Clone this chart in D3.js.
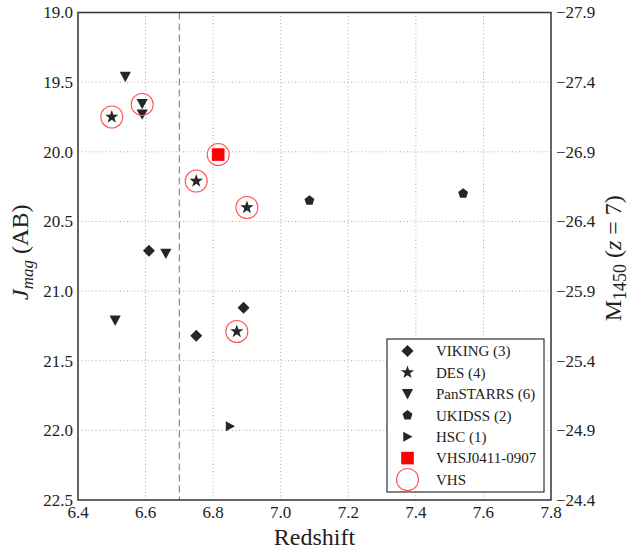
<!DOCTYPE html>
<html><head><meta charset="utf-8">
<script src="https://cdn.jsdelivr.net/npm/d3@7"></script>
<style>body{margin:0;background:#fff}svg{display:block}text{font-family:"Liberation Serif","DejaVu Serif",serif;fill:#222}</style>
</head><body><svg id="c" width="630" height="554"></svg>
<script>
// Data (redshift z, J magnitude AB)
const viking   = [[6.61,20.71],[6.75,21.32],[6.89,21.12]];
const des      = [[6.50,19.75],[6.75,20.21],[6.90,20.40],[6.87,21.29]];
const panstarrs= [[6.54,19.46],[6.59,19.655],[6.59,19.73],[6.66,20.73],[6.51,21.21]];
const ukidss   = [[7.085,20.35],[7.54,20.30]];
const hsc      = [[6.85,21.97]];
const vhsj0411 = [[6.815,20.02]];
const vhs      = [[6.50,19.75],[6.59,19.66],[6.815,20.02],[6.75,20.21],[6.90,20.40],[6.87,21.29]];
const xTicks = [6.4,6.6,6.8,7.0,7.2,7.4,7.6,7.8];
const yTicks = [19.0,19.5,20.0,20.5,21.0,21.5,22.0,22.5];
const mTicks = [-27.9,-27.4,-26.9,-26.4,-25.9,-25.4,-24.9,-24.4];
const legendLabels = ["VIKING (3)","DES (4)","PanSTARRS (6)","UKIDSS (2)","HSC (1)","VHSJ0411-0907","VHS"];
const zCut = 6.7;

const svg = d3.select("#c");
const L=78, R=551, T=12.5, B=500;
const x = d3.scaleLinear().domain([6.4,7.8]).range([L,R]);
const y = d3.scaleLinear().domain([19.0,22.5]).range([T,B]);
const y2 = d3.scaleLinear().domain([-27.9,-24.4]).range([T,B]);
const dark = "#262626", red = "#ff0000", ring = "#ff5555";

function shape(type){
  const p = d3.path();
  if(type==="diamond"){const r=6;p.moveTo(0,-r);p.lineTo(r,0);p.lineTo(0,r);p.lineTo(-r,0);p.closePath();}
  else if(type==="tridown"){const r=5.6;p.moveTo(-r,-r*0.85);p.lineTo(r,-r*0.85);p.lineTo(0,r*1.0);p.closePath();}
  else if(type==="triright"){const r=5;p.moveTo(-r*0.85,-r);p.lineTo(r,0);p.lineTo(-r*0.85,r);p.closePath();}
  else if(type==="pent"){const r=5.2;for(let i=0;i<5;i++){const a=-Math.PI/2+i*2*Math.PI/5;const px=r*Math.cos(a),py=r*Math.sin(a);i?p.lineTo(px,py):p.moveTo(px,py);}p.closePath();}
  else if(type==="star"){const ro=7,ri=2.8;for(let i=0;i<10;i++){const a=-Math.PI/2+i*Math.PI/5;const rr=i%2?ri:ro;const px=rr*Math.cos(a),py=rr*Math.sin(a);i?p.lineTo(px,py):p.moveTo(px,py);}p.closePath();}
  else if(type==="square"){const s=6.3;p.rect(-s,-s,2*s,2*s);}
  return p.toString();
}

// grid
const g = svg.append("g");
g.selectAll(".gx").data(xTicks.slice(1,-1)).join("line")
  .attr("x1",d=>x(d)).attr("x2",d=>x(d)).attr("y1",T).attr("y2",B)
  .attr("stroke","#aaaaaa").attr("stroke-width",1).attr("stroke-dasharray","1,2.5");
g.selectAll(".gy").data(yTicks.slice(1,-1)).join("line")
  .attr("y1",d=>y(d)).attr("y2",d=>y(d)).attr("x1",L).attr("x2",R)
  .attr("stroke","#aaaaaa").attr("stroke-width",1).attr("stroke-dasharray","1,2.5");
// dashed cut
svg.append("line").attr("x1",x(zCut)).attr("x2",x(zCut)).attr("y1",T).attr("y2",B)
  .attr("stroke","#888").attr("stroke-width",1.2).attr("stroke-dasharray","7,4");

// markers
function draw(data,type,fill){
  svg.append("g").selectAll("path").data(data).join("path")
    .attr("d",shape(type)).attr("transform",d=>`translate(${x(d[0])},${y(d[1])})`)
    .attr("fill",fill);
}
draw(viking,"diamond",dark);
draw(des,"star",dark);
draw(panstarrs,"tridown",dark);
draw(ukidss,"pent",dark);
draw(hsc,"triright",dark);
draw(vhsj0411,"square",red);
svg.append("g").selectAll("circle").data(vhs).join("circle")
  .attr("cx",d=>x(d[0])).attr("cy",d=>y(d[1])).attr("r",11)
  .attr("fill","none").attr("stroke",ring).attr("stroke-width",1.1);

// frame
svg.append("rect").attr("x",L).attr("y",T).attr("width",R-L).attr("height",B-T)
  .attr("fill","none").attr("stroke","#333").attr("stroke-width",1.5);

// tick labels
const fmt = d3.format(".1f");
svg.append("g").selectAll("text").data(xTicks).join("text")
  .attr("x",d=>x(d)).attr("y",518).attr("text-anchor","middle").attr("font-size",17).text(d=>fmt(d));
svg.append("g").selectAll("text").data(yTicks).join("text")
  .attr("x",73).attr("y",d=>y(d)).attr("dy","0.35em").attr("text-anchor","end").attr("font-size",17).text(d=>fmt(d));
svg.append("g").selectAll("text").data(mTicks).join("text")
  .attr("x",556).attr("y",d=>y2(d)).attr("dy","0.35em").attr("text-anchor","start").attr("font-size",17).text(d=>"\u2212"+fmt(-d));

// axis labels
svg.append("text").attr("x",(L+R)/2).attr("y",545).attr("text-anchor","middle").attr("font-size",24).text("Redshift");
const yl = svg.append("text").attr("transform",`translate(28,${(T+B)/2-4}) rotate(-90)`).attr("text-anchor","middle").attr("font-size",24);
yl.append("tspan").attr("font-style","italic").text("J");
yl.append("tspan").attr("font-style","italic").attr("font-size",17).attr("dy",5).text("mag");
yl.append("tspan").attr("dy",-5).text(" (AB)");
const yr = svg.append("text").attr("transform",`translate(621,${(T+B)/2+2}) rotate(-90)`).attr("text-anchor","middle").attr("font-size",24);
yr.append("tspan").text("M");
yr.append("tspan").attr("font-size",18).attr("dy",5).text("1450");
yr.append("tspan").attr("dy",-5).text(" (");
yr.append("tspan").attr("font-style","italic").text("z");
yr.append("tspan").text(" = 7)");

// legend
const lg = svg.append("g");
lg.append("rect").attr("x",387).attr("y",339).attr("width",157).attr("height",153)
  .attr("fill","#fff").attr("stroke","#333").attr("stroke-width",1.2);
const ltypes = ["diamond","star","tridown","pent","triright","square","circle"];
const rowY = d3.scaleLinear().domain([0,6]).range([351,479.5]);
ltypes.forEach((t,i)=>{
  const cy=rowY(i), cx=407.5;
  if(t==="circle"){
    lg.append("circle").attr("cx",cx).attr("cy",cy).attr("r",11).attr("fill","none").attr("stroke",ring).attr("stroke-width",1.1);
  } else {
    lg.append("path").attr("d",shape(t)).attr("transform",`translate(${cx},${cy})`).attr("fill",t==="square"?red:dark);
  }
  lg.append("text").attr("x",436).attr("y",cy).attr("dy","0.35em").attr("font-size",15).text(legendLabels[i]);
});
</script></body></html>
